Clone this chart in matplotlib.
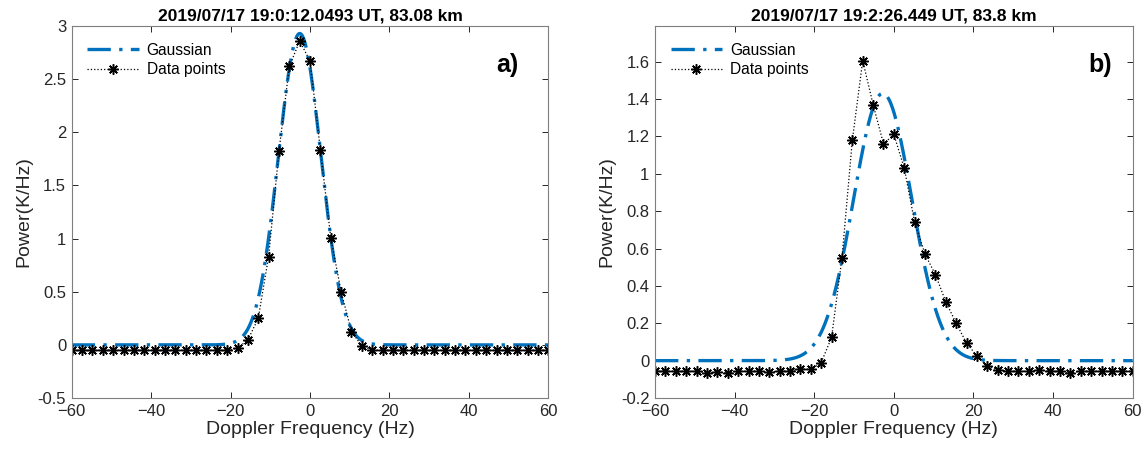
import matplotlib.pyplot as plt
import numpy as np
from matplotlib.ticker import FormatStrFormatter

plt.rcParams['font.family'] = ['Liberation Sans', 'DejaVu Sans']

# Doppler frequency grid (47 bins from -60 to 60 Hz)
freq = np.linspace(-60, 60, 47)

# Panel a) measured spectrum
power_a = [-0.05, -0.05, -0.05, -0.05, -0.05, -0.05, -0.05, -0.05, -0.05, -0.05,
           -0.05, -0.05, -0.05, -0.05, -0.05, -0.05, -0.03, 0.047, 0.25, 0.83,
           1.82, 2.62, 2.86, 2.67, 1.83, 1.01, 0.50, 0.125, -0.01, -0.05,
           -0.05, -0.05, -0.05, -0.05, -0.05, -0.05, -0.05, -0.05, -0.05, -0.05,
           -0.05, -0.05, -0.05, -0.05, -0.05, -0.05, -0.05]
# Gaussian fit parameters, panel a)
amp_a, center_a, sigma_a = 2.93, -2.6, 5.36

# Panel b) measured spectrum
power_b = [-0.056, -0.056, -0.056, -0.056, -0.056, -0.065, -0.06, -0.065, -0.056, -0.056,
           -0.056, -0.06, -0.056, -0.056, -0.043, -0.047, -0.01, 0.124, 0.55, 1.18,
           1.605, 1.37, 1.16, 1.21, 1.03, 0.74, 0.57, 0.46, 0.315, 0.20,
           0.094, 0.025, -0.03, -0.05, -0.056, -0.056, -0.056, -0.05, -0.056, -0.056,
           -0.065, -0.056, -0.056, -0.056, -0.056, -0.056, -0.056]
# Gaussian fit parameters, panel b)
amp_b, center_b, sigma_b = 1.43, -2.8, 7.3

titles = ['2019/07/17 19:0:12.0493 UT, 83.08 km', '2019/07/17 19:2:26.449 UT, 83.8 km']
panel_tags = ['a)', 'b)']
tag_x = [0.937, 0.957]

fine = np.linspace(-60, 60, 1200)

fig = plt.figure(figsize=(11.46, 4.57), dpi=100)
ax_a = fig.add_axes([0.0626, 0.129, 0.4159, 0.814])
ax_b = fig.add_axes([0.5716, 0.129, 0.4168, 0.814])

panels = [
    (ax_a, power_a, amp_a, center_a, sigma_a, (-0.5, 3), np.arange(-0.5, 3.01, 0.5)),
    (ax_b, power_b, amp_b, center_b, sigma_b, (-0.2, 1.79), np.arange(-0.2, 1.61, 0.2)),
]

for i, (ax, power, amp, cen, sig, ylim, yticks) in enumerate(panels):
    gauss = amp * np.exp(-(fine - cen) ** 2 / (2 * sig ** 2))
    ax.plot(fine, gauss, linestyle=(0, (7, 2.5, 1.0, 2.5)), color='#0072BD', lw=2.4,
            label='Gaussian')
    ax.plot(freq, power, linestyle=':', color='black', lw=0.9, marker=(8, 2, 0),
            markersize=7.5, markeredgewidth=1.1, label='Data points')

    ax.set_xlim(-60, 60)
    ax.set_ylim(*ylim)
    ax.set_xticks(np.arange(-60, 61, 20))
    ax.set_yticks(np.round(yticks, 2))
    ax.yaxis.set_major_formatter(FormatStrFormatter('%g'))
    ax.tick_params(direction='in', top=True, right=True, length=4, width=0.7,
                   labelsize=12, colors='#262626', pad=4)
    for s in ax.spines.values():
        s.set_color('#7f7f7f')
        s.set_linewidth(0.8)

    ax.set_xlabel('Doppler Frequency (Hz)', fontsize=14, color='#262626', labelpad=2)
    ax.set_ylabel('Power(K/Hz)', fontsize=14, color='#262626', labelpad=4)
    ax.set_title(titles[i], fontsize=12.5, fontweight='bold', pad=4)
    ax.text(tag_x[i], 0.895, panel_tags[i], transform=ax.transAxes, ha='right', va='center',
            fontsize=18, fontweight='bold')
    ax.legend(loc='upper left', frameon=False, fontsize=11.2, handlelength=3.3,
              handletextpad=0.5, borderaxespad=0.3, labelspacing=0.3,
              bbox_to_anchor=(0.01, 0.985))

fig.savefig('out.png', dpi=100)
